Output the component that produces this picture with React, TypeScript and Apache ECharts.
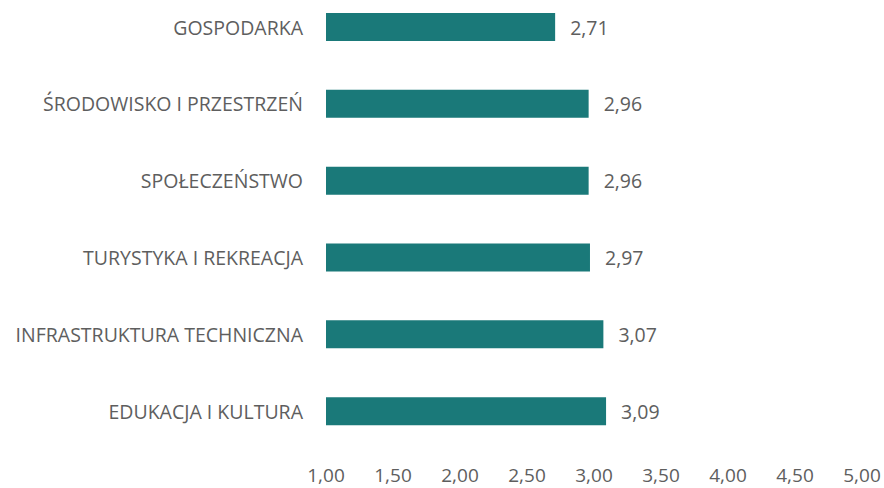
import React, { useEffect, useRef } from "react";
import * as echarts from "echarts";

const categories = [
  "GOSPODARKA",
  "ŚRODOWISKO I PRZESTRZEŃ",
  "SPOŁECZEŃSTWO",
  "TURYSTYKA I REKREACJA",
  "INFRASTRUKTURA TECHNICZNA",
  "EDUKACJA I KULTURA",
];
const values = [2.71, 2.96, 2.96, 2.97, 3.07, 3.09];
const axisMin = 1;
const axisMax = 5;
const axisStep = 0.5;

const fmt = (v: number) => v.toFixed(2).replace(".", ",");

export default function App() {
  const ref = useRef<HTMLDivElement>(null);
  useEffect(() => {
    if (!ref.current) return;
    const chart = echarts.init(ref.current, undefined, { renderer: "svg" });
    const font = "'Open Sans', sans-serif";
    const textColor = "#5e5e5e";
    chart.setOption({
      animation: false,
      backgroundColor: "#ffffff",
      grid: { left: 326, right: 22, top: 0.6, height: 461 },
      xAxis: {
        type: "value",
        min: axisMin,
        max: axisMax,
        interval: axisStep,
        axisLine: { show: false },
        axisTick: { show: false },
        splitLine: { show: false },
        axisLabel: {
          formatter: (v: number) => fmt(v),
          color: textColor,
          fontSize: 19,
          lineHeight: 20,
          fontFamily: font,
          margin: 15,
        },
      },
      yAxis: {
        type: "category",
        inverse: true,
        data: categories,
        axisLine: { show: false },
        axisTick: { show: false },
        axisLabel: {
          color: textColor,
          fontSize: 19.5,
          fontFamily: font,
          margin: 23,
        },
      },
      series: [
        {
          type: "bar",
          data: values,
          barWidth: 28,
          itemStyle: { color: "#1a7979" },
          label: {
            show: true,
            position: "right",
            distance: 15,
            formatter: (p: any) => fmt(p.value),
            color: textColor,
            fontSize: 19.5,
            fontFamily: font,
          },
        },
      ],
    });
    return () => chart.dispose();
  }, []);
  return (
    <div
      ref={ref}
      style={{ width: 884, height: 500, position: "fixed", left: 0, top: -12 }}
    />
  );
}
